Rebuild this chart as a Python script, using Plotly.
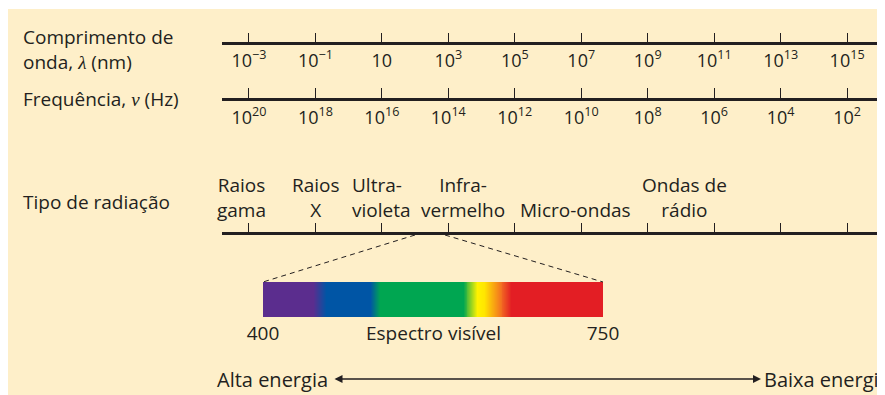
import plotly.graph_objects as go
import numpy as np

# the page puts the figure 8 px in from the top-left corner
OFF = 8
W, H = 885 - OFF, 395 - OFF

# ---- data ----
wl_exp = [-3, -1, 1, 3, 5, 7, 9, 11, 13, 15]
wl_labels = ["10<sup>−3</sup>", "10<sup>−1</sup>", "10", "10<sup>3</sup>", "10<sup>5</sup>",
             "10<sup>7</sup>", "10<sup>9</sup>", "10<sup>11</sup>", "10<sup>13</sup>", "10<sup>15</sup>"]
freq_exp = [20, 18, 16, 14, 12, 10, 8, 6, 4, 2]
freq_labels = ["10<sup>20</sup>", "10<sup>18</sup>", "10<sup>16</sup>", "10<sup>14</sup>", "10<sup>12</sup>",
               "10<sup>10</sup>", "10<sup>8</sup>", "10<sup>6</sup>", "10<sup>4</sup>", "10<sup>2</sup>"]

rad_names = ["Raios<br>gama", "Raios<br>X", "Ultra-<br>violeta", "Infra-<br>vermelho",
             "Micro-ondas", "Ondas de<br>rádio"]
rad_exp = [-3.21, -0.98, 1.0, 3.45, 6.82, 10.1]   # typical wavelength (log10 nm)
rad_align = ["center", "center", "left", "center", "center", "center"]

spec_nm = [400, 452, 465, 511, 521, 606, 621, 628, 645, 656, 750]
spec_col = ["#5B2D8E", "#5B2D8E", "#0055A5", "#0055A5", "#00A651", "#00A651",
            "#FFF200", "#FFE600", "#F37021", "#E31E24", "#E31E24"]
vis_ticks = [400, 750]

INK = "#231F20"
FONT = "Open Sans"


def X(px):
    return (px - OFF) / W


def Y(py):
    return 1 - (py - OFF) / H


fig = go.Figure()

# invisible anchors so every scale gets its own subplot
for xa, ya, vals in [("x", "y", [10.0 ** e for e in wl_exp]),
                     ("x2", "y2", [10.0 ** e for e in freq_exp]),
                     ("x3", "y3", [10.0 ** e for e in wl_exp])]:
    fig.add_trace(go.Scatter(x=vals, y=[0.5] * len(vals), mode="markers",
                             marker=dict(opacity=0), hoverinfo="skip", xaxis=xa, yaxis=ya))

# visible spectrum bar
wl = np.arange(400, 751)
cscale = [[(n - 400) / 350, c] for n, c in zip(spec_nm, spec_col)]
fig.add_trace(go.Heatmap(x=wl, y=[0], z=[wl], colorscale=cscale, zmin=400, zmax=750,
                         showscale=False, hoverinfo="skip", xaxis="x4", yaxis="y4"))

axis_common = dict(showline=True, linewidth=2.5, linecolor=INK, ticks="inside", ticklen=10,
                   tickwidth=1.2, tickcolor=INK, showgrid=False, zeroline=False, fixedrange=True,
                   automargin=False, layer="above traces",
                   tickfont=dict(family=FONT, size=18, color=INK), domain=[X(222), X(880)])
ycommon = dict(visible=False, fixedrange=True, range=[0, 1], automargin=False)

fig.update_layout(
    template="none",
    width=W, height=H, margin=dict(l=0, r=0, t=0, b=0, pad=0, autoexpand=False),
    paper_bgcolor="white", plot_bgcolor="rgba(0,0,0,0)",
    showlegend=False, hovermode=False,
    font=dict(family=FONT, size=19, color=INK),
    xaxis=dict(type="log", range=[-3.81, 15.99], anchor="y",
               tickvals=[10.0 ** e for e in wl_exp], ticktext=wl_labels, **axis_common),
    yaxis=dict(domain=[Y(42.3), Y(42.3) + 0.02], **ycommon),
    xaxis2=dict(type="log", range=[20.81, 1.01], anchor="y2", ticklabelstandoff=2,
                tickvals=[10.0 ** e for e in freq_exp], ticktext=freq_labels, **axis_common),
    yaxis2=dict(domain=[Y(97.7), Y(97.7) + 0.02], **ycommon),
    xaxis3=dict(type="log", range=[-3.81, 15.99], anchor="y3",
                tickvals=[10.0 ** e for e in wl_exp], showticklabels=False, **axis_common),
    yaxis3=dict(domain=[Y(232.3), Y(232.3) + 0.02], **ycommon),
    xaxis4=dict(range=[400, 750], domain=[X(263), X(603)], anchor="y4",
                tickvals=vis_ticks, ticktext=[str(v) for v in vis_ticks], ticks="",
                showline=False, showgrid=False, zeroline=False, fixedrange=True, automargin=False,
                ticklabelstandoff=3, tickfont=dict(family=FONT, size=19, color=INK)),
    yaxis4=dict(domain=[Y(317), Y(282)], range=[-0.5, 0.5], visible=False, fixedrange=True,
                automargin=False),
)

# background panel
fig.add_shape(type="rect", xref="paper", yref="paper", x0=0, x1=1, y0=0, y1=Y(9),
              fillcolor="#FEEFC9", line_width=0, layer="below")

# dashed leaders from the spectrum position to the bar
fig.add_shape(type="line", xref="paper", yref="paper", x0=X(415), y0=Y(235), x1=X(263), y1=Y(282),
              line=dict(color=INK, width=1, dash="5px,4px"))
fig.add_shape(type="line", xref="paper", yref="paper", x0=X(445), y0=Y(235), x1=X(603), y1=Y(282),
              line=dict(color=INK, width=1, dash="5px,4px"))

# left-hand labels
left = [("Comprimento de<br>onda, <span style=\"font-family:'Liberation Serif';font-style:italic\">λ</span> (nm)", 49.5),
        ("Frequência, <span style=\"font-family:'Liberation Serif';font-style:italic\">ν</span> (Hz)", 99),
        ("Tipo de radiação", 201.5)]
for txt, py in left:
    fig.add_annotation(text=txt, xref="paper", yref="paper", x=X(21), y=Y(py),
                       xanchor="left", yanchor="middle", align="left", showarrow=False)

# radiation types
for name, e, al in zip(rad_names, rad_exp, rad_align):
    fig.add_annotation(text=name, xref="x3", yref="paper", x=e, y=Y(225),
                       xanchor="center", yanchor="bottom", align=al, showarrow=False)

fig.add_annotation(text="Espectro visível", xref="x4 domain", yref="paper", x=0.5, y=Y(333),
                   xanchor="center", yanchor="middle", showarrow=False, font=dict(size=19))

# energy arrow
y_arrow = Y(379)
fig.add_annotation(text="", xref="paper", yref="paper", x=X(761), y=y_arrow, ax=-(761 - 333), ay=0,
                   axref="pixel", ayref="pixel", showarrow=True, arrowside="end+start",
                   arrowhead=2, arrowsize=1, arrowwidth=1.6, arrowcolor=INK)
fig.add_annotation(text="Alta energia", xref="paper", yref="paper", x=X(330), y=y_arrow,
                   xanchor="right", yanchor="middle", showarrow=False, font=dict(size=20))
fig.add_annotation(text="Baixa energia", xref="paper", yref="paper", x=X(762), y=y_arrow,
                   xanchor="left", yanchor="middle", showarrow=False, font=dict(size=20))

fig.write_html("out.html")
